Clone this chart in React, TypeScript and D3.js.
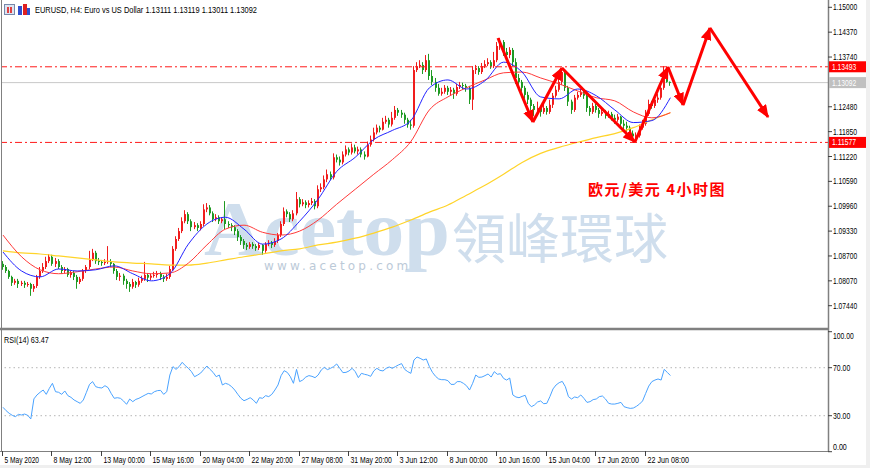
import React from 'react';
import * as d3 from 'd3';

// EURUSD H4 bars, 5 May - 24 Jun 2020 (open of a bar = close of the bar before)
const firstOpen = 1.085;
const closes = [
  1.0842, 1.0832, 1.0817, 1.0802, 1.0807, 1.0799, 1.0802, 1.0797, 1.0799, 1.0787,
  1.0794, 1.0817, 1.0832, 1.0842, 1.0857, 1.0868, 1.085, 1.0857, 1.0842, 1.0832,
  1.0837, 1.0822, 1.0827, 1.0817, 1.0804, 1.0812, 1.0832, 1.0842, 1.0862, 1.0878,
  1.0857, 1.0855, 1.0852, 1.0855, 1.0857, 1.085, 1.0832, 1.0817, 1.082, 1.0807,
  1.0799, 1.0792, 1.0804, 1.0797, 1.0807, 1.0812, 1.0822, 1.0815, 1.082, 1.0822,
  1.0825, 1.0817, 1.0812, 1.0817, 1.0837, 1.0888, 1.0913, 1.0933, 1.0958, 1.0976,
  1.0958, 1.0943, 1.0948, 1.0941, 1.0951, 1.0988, 1.0993, 1.0978, 1.0963, 1.0968,
  1.0958, 1.0963, 1.0951, 1.0948, 1.0943, 1.0933, 1.0918, 1.0908, 1.0898, 1.0893,
  1.09, 1.0895, 1.089, 1.0898, 1.0883, 1.09, 1.0903, 1.0898, 1.0908, 1.0923,
  1.0951, 1.0983, 1.0976, 1.0963, 1.0978, 1.1014, 1.1001, 1.1006, 1.0999, 1.1004,
  1.1009, 1.0996, 1.1039, 1.1044, 1.1064, 1.1077, 1.1069, 1.112, 1.1114, 1.1107,
  1.1127, 1.114, 1.1132, 1.1145, 1.1135, 1.114, 1.1127, 1.1122, 1.1152, 1.1165,
  1.1183, 1.1195, 1.119, 1.121, 1.1215, 1.1203, 1.122, 1.124, 1.1233, 1.1228,
  1.1215, 1.1203, 1.12, 1.1341, 1.1351, 1.1354, 1.1341, 1.1366, 1.1326, 1.1311,
  1.1296, 1.1281, 1.1286, 1.1296, 1.1286, 1.1291, 1.1281, 1.1298, 1.1303, 1.1301,
  1.1296, 1.1266, 1.1341, 1.1346, 1.1336, 1.1351, 1.1356, 1.1361, 1.1351, 1.1366,
  1.1402, 1.1412, 1.1387, 1.1379, 1.1392, 1.1361, 1.1321, 1.1311, 1.1296, 1.1278,
  1.1266, 1.125, 1.124, 1.1245, 1.1235, 1.1245, 1.1235, 1.1253, 1.1276, 1.1291,
  1.1311, 1.1336, 1.1296, 1.1261, 1.124, 1.1271, 1.1278, 1.1286, 1.1276, 1.1245,
  1.1235, 1.125, 1.124, 1.123, 1.1235, 1.1225, 1.123, 1.122, 1.1215, 1.1223,
  1.1205, 1.12, 1.1195, 1.118, 1.1173, 1.1175, 1.1195, 1.1205, 1.123, 1.1255,
  1.125, 1.1266, 1.1271, 1.1296, 1.1336, 1.13111, 1.13092,
];
const highs = [
  1.0857, 1.0847, 1.0835, 1.082, 1.0812, 1.0812, 1.0807, 1.0807, 1.0804, 1.0802,
  1.0799, 1.0822, 1.0842, 1.0852, 1.0868, 1.0875, 1.0873, 1.0865, 1.0862, 1.0847,
  1.0842, 1.084, 1.0832, 1.0832, 1.0822, 1.0817, 1.0837, 1.0847, 1.0883, 1.0888,
  1.0883, 1.0865, 1.086, 1.0862, 1.0895, 1.0862, 1.0852, 1.0837, 1.0827, 1.0825,
  1.0812, 1.0804, 1.0812, 1.0807, 1.0815, 1.082, 1.0855, 1.0827, 1.0825, 1.083,
  1.0832, 1.083, 1.0822, 1.0825, 1.0845, 1.0895, 1.092, 1.0941, 1.0968, 1.0986,
  1.0981, 1.0963, 1.0956, 1.0953, 1.0958, 1.1001, 1.1004, 1.0999, 1.0983, 1.0976,
  1.0973, 1.0968, 1.1009, 1.0958, 1.0953, 1.0948, 1.0938, 1.0923, 1.0913, 1.0903,
  1.0905, 1.0905, 1.09, 1.0903, 1.09, 1.0905, 1.091, 1.0908, 1.0915, 1.0928,
  1.0958, 1.0993, 1.0988, 1.0981, 1.0986, 1.1032, 1.1019, 1.1014, 1.1011, 1.1011,
  1.1017, 1.1014, 1.1049, 1.1054, 1.1074, 1.1089, 1.1084, 1.113, 1.1127, 1.1122,
  1.1135, 1.115, 1.1145, 1.1155, 1.1152, 1.1147, 1.1145, 1.1135, 1.116, 1.1175,
  1.1195, 1.1203, 1.12, 1.122, 1.1225, 1.122, 1.1235, 1.125, 1.1245, 1.124,
  1.1233, 1.122, 1.1215, 1.1351, 1.1361, 1.1366, 1.1361, 1.1379, 1.1382, 1.1341,
  1.1321, 1.1306, 1.1296, 1.1303, 1.1301, 1.1298, 1.1296, 1.1306, 1.1311, 1.1309,
  1.1306, 1.1301, 1.1351, 1.1354, 1.1351, 1.1359, 1.1366, 1.1371, 1.1366, 1.1387,
  1.1412, 1.1422, 1.1417, 1.1397, 1.1399, 1.1397, 1.1371, 1.1331, 1.1316, 1.1301,
  1.1286, 1.1271, 1.1255, 1.1261, 1.125, 1.1255, 1.125, 1.1266, 1.1283, 1.1301,
  1.1321, 1.1346, 1.1341, 1.1301, 1.1266, 1.1278, 1.1286, 1.1293, 1.1291, 1.1281,
  1.125, 1.1258, 1.1255, 1.1245, 1.1243, 1.124, 1.1238, 1.1235, 1.1228, 1.123,
  1.1225, 1.1215, 1.121, 1.12, 1.1188, 1.1183, 1.1203, 1.1215, 1.124, 1.1266,
  1.1263, 1.1276, 1.1281, 1.1306, 1.1351, 1.1344, 1.13119,
];
const lows = [
  1.0835, 1.0827, 1.0812, 1.0794, 1.0797, 1.0789, 1.0794, 1.0789, 1.0792, 1.0769,
  1.0779, 1.0789, 1.0812, 1.0827, 1.0837, 1.0852, 1.0845, 1.0842, 1.0837, 1.0825,
  1.0827, 1.0817, 1.0815, 1.0809, 1.0787, 1.0799, 1.0807, 1.0827, 1.0837, 1.0857,
  1.085, 1.0847, 1.0845, 1.0847, 1.085, 1.0842, 1.0825, 1.0809, 1.0807, 1.0797,
  1.0787, 1.0779, 1.0787, 1.0789, 1.0792, 1.0802, 1.0807, 1.0804, 1.0809, 1.0815,
  1.0815, 1.0809, 1.0804, 1.0807, 1.0812, 1.0832, 1.0883, 1.0908, 1.0928, 1.0953,
  1.0951, 1.0933, 1.0938, 1.0933, 1.0935, 1.0946, 1.0981, 1.0973, 1.0956, 1.0958,
  1.0951, 1.0953, 1.0938, 1.0941, 1.0933, 1.0923, 1.0908, 1.0898, 1.0888, 1.0885,
  1.0888, 1.0888, 1.0883, 1.0885, 1.0873, 1.0878, 1.0895, 1.089, 1.0893, 1.0903,
  1.0918, 1.0946, 1.0968, 1.0956, 1.0958, 1.0973, 1.0993, 1.0996, 1.0991, 1.0993,
  1.0999, 1.0988, 1.0991, 1.1032, 1.1039, 1.1057, 1.1062, 1.1064, 1.1107, 1.1099,
  1.1102, 1.1122, 1.1125, 1.1127, 1.113, 1.1127, 1.112, 1.1114, 1.112, 1.1147,
  1.116, 1.1178, 1.1183, 1.1188, 1.1205, 1.1195, 1.1198, 1.1215, 1.1225, 1.122,
  1.1205, 1.1195, 1.119, 1.1195, 1.1336, 1.1346, 1.1331, 1.1336, 1.1316, 1.1303,
  1.1286, 1.1276, 1.1276, 1.1281, 1.1278, 1.1278, 1.1268, 1.1276, 1.1293, 1.1291,
  1.1286, 1.1255, 1.124, 1.1331, 1.1329, 1.1331, 1.1346, 1.1351, 1.1344, 1.1346,
  1.1361, 1.1392, 1.1377, 1.1371, 1.1371, 1.1351, 1.1306, 1.1301, 1.1286, 1.1268,
  1.1255, 1.124, 1.1225, 1.1233, 1.1223, 1.123, 1.1228, 1.123, 1.1245, 1.1271,
  1.1286, 1.1303, 1.1288, 1.125, 1.123, 1.1235, 1.1266, 1.1273, 1.1268, 1.1235,
  1.1225, 1.123, 1.1233, 1.122, 1.1225, 1.1218, 1.122, 1.1213, 1.1205, 1.121,
  1.1198, 1.119, 1.1185, 1.117, 1.1163, 1.1165, 1.117, 1.119, 1.12, 1.1225,
  1.1243, 1.1245, 1.1258, 1.1266, 1.1291, 1.1309, 1.13011,
];

// moving averages, read every 6th bar
const maBars = [
  0, 6, 12, 18, 24, 30, 36, 42, 48, 54, 60, 66, 72, 78, 84, 90, 96, 102, 108,
  114, 120, 126, 132, 138, 144, 150, 156, 162, 168, 174, 180, 186, 192, 198, 204, 210, 216,
];
const maFast = [
  1.088, 1.0832, 1.0817, 1.0837, 1.0832, 1.0835, 1.0845, 1.0825, 1.0807, 1.0825,
  1.09, 1.0951, 1.0968, 1.0938, 1.09, 1.0913, 1.0958, 1.1014, 1.1084, 1.112,
  1.1165, 1.1188, 1.1213, 1.1296, 1.1316, 1.1293, 1.1314, 1.1361, 1.1336, 1.1273,
  1.1268, 1.1293, 1.1276, 1.124, 1.1208, 1.1213, 1.1271,
];
const maMid = [
  1.0923, 1.0868, 1.0835, 1.0825, 1.083, 1.0837, 1.0842, 1.0832, 1.0825, 1.0827,
  1.0852, 1.0898, 1.0938, 1.0948, 1.093, 1.0923, 1.0933, 1.0961, 1.1001, 1.1039,
  1.1077, 1.1114, 1.116, 1.124, 1.1273, 1.1296, 1.1316, 1.1334, 1.1336, 1.1321,
  1.1306, 1.1288, 1.1271, 1.1263, 1.1235, 1.122, 1.1233,
];
const maSlow = [
  1.0883, 1.0878, 1.0875, 1.087, 1.0865, 1.086, 1.0855, 1.0852, 1.085, 1.0847,
  1.0847, 1.0852, 1.086, 1.0868, 1.0875, 1.0883, 1.0888, 1.0898, 1.0905, 1.0915,
  1.0928, 1.0943, 1.0961, 1.0981, 1.0999, 1.1024, 1.1049, 1.1077, 1.1107, 1.113,
  1.1145, 1.1158, 1.117, 1.118, 1.1195, 1.1215, 1.1233,
];

const rsiValues = [
  37.0, 34.2, 32.0, 30.3, 29.2, 31.1, 30.6, 31.4, 30.3, 27.3,
  44.0, 47.3, 49.5, 51.4, 47.8, 52.8, 57.0, 50.0, 49.5, 47.8,
  50.6, 46.7, 45.3, 43.1, 41.7, 40.3, 43.1, 49.5, 56.1, 58.4,
  54.2, 53.4, 53.1, 55.0, 53.4, 48.6, 44.5, 45.0, 44.5, 42.3,
  39.5, 43.9, 41.7, 43.6, 44.5, 45.9, 47.3, 48.6, 48.1, 50.0,
  50.9, 51.1, 47.8, 50.0, 63.9, 70.9, 68.6, 70.9, 74.5, 71.7,
  69.5, 66.7, 62.5, 63.9, 65.6, 68.6, 71.4, 68.6, 66.1, 62.5,
  63.9, 55.6, 57.0, 56.1, 54.2, 51.4, 47.8, 44.5, 42.5, 43.6,
  45.0, 43.1, 40.3, 45.0, 44.5, 46.7, 45.9, 47.8, 51.4, 55.6,
  63.4, 67.5, 66.1, 62.5, 57.0, 68.6, 58.4, 59.7, 62.2, 63.4,
  62.8, 61.7, 63.9, 68.1, 70.3, 68.4, 69.5, 70.9, 73.1, 69.5,
  65.9, 66.1, 67.3, 69.5, 66.7, 61.7, 65.3, 64.5, 63.9, 62.8,
  67.3, 69.5, 67.8, 67.3, 69.5, 70.6, 69.5, 70.9, 72.3, 73.4,
  68.6, 66.7, 65.3, 76.4, 78.9, 77.8, 76.4, 77.3, 70.9, 66.1,
  62.8, 60.6, 60.0, 60.0, 59.2, 56.1, 56.1, 58.4, 58.4, 57.0,
  55.0, 51.4, 57.0, 63.9, 62.0, 62.2, 63.4, 64.8, 62.2, 66.7,
  64.5, 65.0, 61.1, 59.7, 61.4, 47.3, 45.6, 45.0, 46.1, 47.0,
  40.3, 37.5, 38.9, 41.4, 42.3, 40.0, 40.3, 45.9, 52.3, 55.6,
  57.5, 58.6, 54.2, 45.9, 43.9, 45.6, 45.0, 47.3, 44.5, 41.1,
  41.7, 43.4, 43.9, 45.9, 46.4, 43.9, 40.3, 39.7, 39.7, 40.3,
  41.1, 37.5, 36.7, 36.1, 36.4, 37.8, 39.7, 42.3, 48.6, 54.7,
  58.4, 59.7, 60.6, 59.7, 68.6, 66.1, 63.47,
];

const priceTicks = [1.15, 1.1437, 1.1374, 1.1248, 1.1185, 1.1122, 1.1059, 1.0996, 1.0933, 1.087, 1.0807, 1.0744];
const rsiTicks = [100, 70, 30, 0];
const rsiLevels = [70, 30];
const timeLabels = [
  '5 May 2020', '8 May 12:00', '13 May 00:00', '15 May 16:00', '20 May 04:00', '22 May 20:00',
  '27 May 08:00', '31 May 20:00', '3 Jun 12:00', '8 Jun 00:00', '10 Jun 16:00', '15 Jun 04:00',
  '17 Jun 20:00', '22 Jun 08:00',
];
const timeLabelBars = [0, 16, 32, 48, 64, 80, 96, 112, 128, 144, 160, 176, 192, 208];

const levelUpper = 1.13493;
const levelLower = 1.11577;
const lastPrice = 1.13092;

// hand-drawn forecast zigzag (bar index, price)
const arrowBars = [160.2, 171.5, 180.9, 204.5, 215.2, 220.1, 228.8, 247.6];
const arrowPrices = [1.14222, 1.12094, 1.13462, 1.11587, 1.13487, 1.12525, 1.14476, 1.12221];

const FONT = "'Liberation Sans',sans-serif";
const UP = '#f01d1d';
const DOWN = '#1f9a23';

export default function App() {
  const axisX = 828;
  const mainBottom = 327;
  const rsiTop = 331;
  const rsiBottom = 451;

  const x = d3.scaleLinear().domain([0, closes.length - 1]).range([3, 670.4]);
  const y = d3.scaleLinear().domain([1.0744, 1.15]).range([305.7, 7.3]);
  const yr = d3.scaleLinear().domain([0, 100]).range([rsiBottom + 0.7, rsiTop + 0.7]);

  const maLine = d3
    .line<number>()
    .x((_, i) => x(maBars[i]))
    .y((d) => y(d))
    .curve(d3.curveMonotoneX);
  const rsiLine = d3
    .line<number>()
    .x((_, i) => x(i))
    .y((d) => yr(d));

  const fmt = d3.format('.5f');

  const candles = closes.map((c, i) => {
    const o = i === 0 ? firstOpen : closes[i - 1];
    const hi = Math.max(highs[i], o, c);
    const lo = Math.min(lows[i], o, c);
    const color = c >= o ? UP : DOWN;
    const cx = Math.round(x(i));
    const top = y(Math.max(o, c));
    const bot = y(Math.min(o, c));
    return (
      <g key={i}>
        <rect x={cx - 1} y={y(hi)} width={1} height={y(lo) - y(hi)} fill={color} />
        <rect x={cx - 1} y={top} width={2} height={Math.max(1, bot - top)} fill={color} />
      </g>
    );
  });

  const arrows = arrowBars.slice(1).map((b, i) => (
    <line
      key={i}
      x1={x(arrowBars[i])}
      y1={y(arrowPrices[i])}
      x2={x(b)}
      y2={y(arrowPrices[i + 1])}
      stroke="#ff0000"
      strokeWidth={3}
      markerEnd="url(#ah)"
    />
  ));

  // small axis text squeezed to the narrow terminal font width
  const small = (s: string) => s.length * 3.45;
  const rsiLabel = `RSI(14) ${rsiValues[rsiValues.length - 1].toFixed(2)}`;

  const priceBox = (p: number, fill: string) => (
    <g>
      <rect x={axisX + 1} y={y(p) - 5.5} width={37} height={11} fill={fill} />
      <text x={axisX + 4} y={y(p) + 3} fontSize={8.5} fill="#fff" fontFamily={FONT}
        textLength={small(fmt(p))} lengthAdjust="spacingAndGlyphs">
        {fmt(p)}
      </text>
    </g>
  );

  return (
    <div style={{ width: 870, height: 468 }}>
      <style>{'body{margin:0}'}</style>
      <svg width={870} height={468} style={{ display: 'block', background: '#fff' }}>
        <defs>
          <clipPath id="mainClip">
            <rect x={2} y={2} width={axisX - 2} height={mainBottom - 2} />
          </clipPath>
          <clipPath id="rsiClip">
            <rect x={2} y={rsiTop} width={axisX - 2} height={rsiBottom - rsiTop} />
          </clipPath>
          <marker id="ah" viewBox="0 0 12 10" refX={11} refY={5} markerWidth={13} markerHeight={11}
            markerUnits="userSpaceOnUse" orient="auto">
            <path d="M0,0 L12,5 L0,10 z" fill="#ff0000" />
          </marker>
        </defs>

        {/* watermark */}
        <g>
          <text x={204} y={255} fontSize={78} fontWeight="bold" fontFamily="'Liberation Serif',serif"
            fill="#cfdeed" textLength={246} lengthAdjust="spacingAndGlyphs">Acetop</text>
          <text x={452} y={259} fontSize={54} fontFamily="'Noto Sans CJK TC',sans-serif"
            fill="#cfdeed" textLength={216} lengthAdjust="spacingAndGlyphs">領峰環球</text>
          <text x={264} y={270} fontSize={12} fontFamily="'DejaVu Sans',sans-serif"
            fill="#bccad8" letterSpacing={3.2}>www.acetop.com</text>
        </g>

        {/* main panel */}
        <g clipPath="url(#mainClip)">
          <line x1={0} x2={axisX} y1={y(lastPrice)} y2={y(lastPrice)} stroke="#c8c8c8" />
          {candles}
          <path d={maLine(maSlow) ?? ''} fill="none" stroke="#ffd42a" strokeWidth={1.2} />
          <path d={maLine(maMid) ?? ''} fill="none" stroke="#ff3a3a" strokeWidth={1} />
          <path d={maLine(maFast) ?? ''} fill="none" stroke="#2323ff" strokeWidth={1} />
          {[levelUpper, levelLower].map((p) => (
            <line key={p} x1={0} x2={axisX} y1={y(p)} y2={y(p)} stroke="#ff1a1a"
              strokeDasharray="7,3,2,3" />
          ))}
          {arrows}
        </g>

        <text x={588} y={195} fontSize={15} fontWeight="bold" fill="#ff0000" letterSpacing={1.5}
          fontFamily="'Noto Sans CJK SC',sans-serif">欧元/美元 4小时图</text>

        {/* header */}
        <rect x={4.5} y={4.5} width={10} height={10} fill="#dde4f2" stroke="#7788aa" />
        <rect x={7} y={7} width={2} height={6} fill="#e04040" />
        <rect x={10} y={7} width={2} height={6} fill="#e04040" />
        <rect x={18} y={6} width={4} height={9} fill="#3050d0" />
        <rect x={23} y={4} width={4} height={11} fill="#e02020" />
        <rect x={27} y={8} width={3} height={7} fill="#3050d0" />
        <text x={35} y={13} fontSize={9} fontFamily={FONT} fill="#000" textLength={222}
          lengthAdjust="spacingAndGlyphs">
          EURUSD, H4:  Euro vs US Dollar  1.13111 1.13119 1.13011 1.13092
        </text>

        {/* rsi panel */}
        <g clipPath="url(#rsiClip)">
          {rsiLevels.map((v) => (
            <line key={v} x1={0} x2={axisX} y1={yr(v)} y2={yr(v)} stroke="#c4c4c4"
              strokeWidth={1.2} strokeDasharray="1.5,3" />
          ))}
          <path d={rsiLine(rsiValues) ?? ''} fill="none" stroke="#4aa3ff" strokeWidth={1} />
        </g>
        <text x={4} y={343} fontSize={8.5} fontFamily={FONT} fill="#000"
          textLength={small(rsiLabel)} lengthAdjust="spacingAndGlyphs">
          {rsiLabel}
        </text>

        {/* frame */}
        <line x1={1.5} x2={1.5} y1={0} y2={rsiBottom} stroke="#808080" />
        <line x1={0} x2={axisX} y1={329} y2={329} stroke="#808080" strokeWidth={2.5} />
        <line x1={0} x2={axisX} y1={rsiBottom + 0.5} y2={rsiBottom + 0.5} stroke="#808080" />
        <line x1={axisX + 0.5} x2={axisX + 0.5} y1={0} y2={rsiBottom + 1} stroke="#808080" strokeWidth={1.5} />

        {/* price axis */}
        {priceTicks.map((p) => (
          <g key={p}>
            <line x1={axisX} x2={axisX + 4} y1={y(p)} y2={y(p)} stroke="#404040" />
            <text x={axisX + 5} y={y(p) + 3} fontSize={8.5} fontFamily={FONT} fill="#000"
              textLength={small(fmt(p))} lengthAdjust="spacingAndGlyphs">
              {fmt(p)}
            </text>
          </g>
        ))}
        {priceBox(levelUpper, '#ff0000')}
        {priceBox(levelLower, '#ff0000')}
        {priceBox(lastPrice, '#c0c0c0')}

        {/* rsi axis */}
        {rsiTicks.map((v) => (
          <g key={v}>
            <line x1={axisX} x2={axisX + 4} y1={yr(v)} y2={yr(v)} stroke="#404040" />
            <text x={axisX + 5} y={Math.min(Math.max(yr(v), 336), 447) + 3} fontSize={8.5}
              fontFamily={FONT} fill="#000" textLength={small(v.toFixed(2))}
              lengthAdjust="spacingAndGlyphs">
              {v.toFixed(2)}
            </text>
          </g>
        ))}

        {/* time axis */}
        {timeLabels.map((t, i) => {
          const tx = Math.round(x(timeLabelBars[i])) - 0.5;
          return (
            <g key={t}>
              <line x1={tx} x2={tx} y1={rsiBottom} y2={rsiBottom + 5} stroke="#404040" />
              <text x={tx + 2} y={463} fontSize={8.5} fontFamily={FONT} fill="#000"
                textLength={small(t)} lengthAdjust="spacingAndGlyphs">{t}</text>
            </g>
          );
        })}

        <rect x={866} y={0} width={4} height={468} fill="#efefef" />
        <rect x={0} y={465} width={870} height={3} fill="#efefef" />
      </svg>
    </div>
  );
}
